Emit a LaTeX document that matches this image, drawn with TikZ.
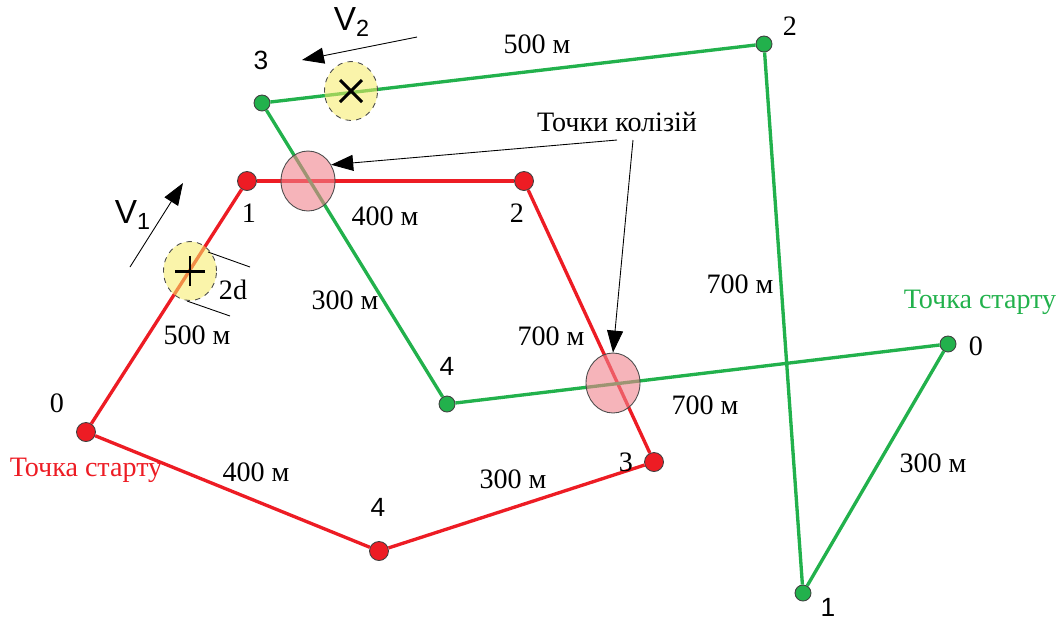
\documentclass[tikz,border=0pt]{standalone}
\usepackage{fontspec}
\setmainfont{Liberation Serif}
\setsansfont{Liberation Sans}
\usepackage{tikz}
\usetikzlibrary{arrows.meta,positioning,shapes.geometric,calc}
\definecolor{routered}{RGB}{237,28,36}
\definecolor{routegreen}{RGB}{34,177,76}
\definecolor{hitpink}{RGB}{240,130,140}
\definecolor{zoneyellow}{RGB}{245,235,100}

\begin{document}
\begin{tikzpicture}[x=0.02cm, y=-0.02cm,
  font=\fontsize{16}{19}\selectfont,
  reddot/.style={circle, draw=black!75, line width=0.5pt, fill=routered, inner sep=0pt, minimum size=0.38cm},
  greendot/.style={circle, draw=black!75, line width=0.5pt, fill=routegreen, inner sep=0pt, minimum size=0.32cm},
  redline/.style={routered, line width=1.9pt},
  greenline/.style={routegreen, line width=1.9pt},
  hit/.style={ellipse, draw=black!70, line width=0.5pt, fill=hitpink, fill opacity=0.6, inner sep=0pt, minimum width=1.08cm, minimum height=1.2cm},
  zone/.style={ellipse, draw=black!70, dashed, line width=0.5pt, fill=zoneyellow, fill opacity=0.55, inner sep=0pt, minimum width=1.06cm, minimum height=1.18cm},
  sansnum/.style={font=\sffamily\fontsize{15}{18}\selectfont},
  vel/.style={font=\sffamily\fontsize{19}{22}\selectfont},
  arrow/.style={-{Triangle[length=4.4mm, width=3.2mm]}, line width=0.5pt},
  cross/.style={black, line width=1.7pt}
]
\useasboundingbox (0,0) rectangle (1059,620);

% red route
\node[reddot] (r0) at (86,432) {};
\node[reddot] (r1) at (247,181) {};
\node[reddot] (r2) at (524,181) {};
\node[reddot] (r3) at (654,462) {};
\node[reddot] (r4) at (379,551) {};
\draw[redline] (r0) -- (r1);
\draw[redline] (r1) -- (r2);
\draw[redline] (r2) -- (r3);
\draw[redline] (r3) -- (r4);
\draw[redline] (r4) -- (r0);

% green route
\node[greendot] (g0) at (948,344) {};
\node[greendot] (g1) at (803,593) {};
\node[greendot] (g2) at (764,44) {};
\node[greendot] (g3) at (262,103) {};
\node[greendot] (g4) at (447,404) {};
\draw[greenline] (g0) -- (g1);
\draw[greenline] (g1) -- (g2);
\draw[greenline] (g2) -- (g3);
\draw[greenline] (g3) -- (g4);
\draw[greenline] (g4) -- (g0);

% collision points and safety zones
\node[hit] (hit1) at (308,181) {};
\node[hit] (hit2) at (613,383) {};
\node[zone] (zx) at (351,91) {};
\node[zone] (zp) at (190,271) {};
\draw[cross] ([shift={(-11,-11)}]zx.center) -- ([shift={(11,11)}]zx.center);
\draw[cross] ([shift={(-11,11)}]zx.center) -- ([shift={(11,-11)}]zx.center);
\draw[cross] ([shift={(-15,0)}]zp.center) -- ([shift={(15,0)}]zp.center);
\draw[cross] ([shift={(0,-15)}]zp.center) -- ([shift={(0,15)}]zp.center);

% 2d
\draw[line width=0.5pt] (208,252) -- (250,267);
\draw[line width=0.5pt] (187,301) -- (230,316);
\node (dd) at (233,290) {2d};

% labels at red points
\node (lr0) at (57,403) {0};
\node (lr1) at (249,213) {1};
\node (lr2) at (517,213) {2};
\node (lr3) at (626,462) {3};
\node[sansnum] (lr4) at (378,507) {4};
\node[text=routered] (rstart) at (86,470) {Точка старту};

% labels at green points
\node (lg0) at (976,346) {0};
\node[sansnum] (lg1) at (828,607) {1};
\node (lg2) at (790,26) {2};
\node[sansnum] (lg3) at (261,60) {3};
\node[sansnum] (lg4) at (447,366) {4};
\node[text=routegreen] (gstart) at (980,302) {Точка старту};

% distances
\node (dr01) at (197,335) {500 м};
\node (dr12) at (385,216) {400 м};
\node (dr23) at (551,336) {700 м};
\node (dr34) at (513,479) {300 м};
\node (dr40) at (256,472) {400 м};
\node (dg01) at (933,463) {300 м};
\node (dg12) at (740,284) {700 м};
\node (dg23) at (537,44) {500 м};
\node (dg34) at (345,300) {300 м};
\node (dg40) at (705,405) {700 м};

% velocities
\node[vel] (v1) at (133,215) {V\textsubscript{1}};
\node[vel] (v2) at (352,22) {V\textsubscript{2}};
\coordinate (v1s) at (130,267);
\coordinate (v1e) at (183,183);
\coordinate (v2s) at (417,37);
\coordinate (v2e) at (302,60);
\draw[arrow] (v1s) -- (v1e);
\draw[arrow] (v2s) -- (v2e);

% collision label
\node (coll) at (617,122) {Точки колізій};
\coordinate (ca) at (617,140);
\coordinate (cb) at (633,140);
\draw[arrow] (ca) -- (hit1.35);
\draw[arrow] (cb) -- (hit2.north);
\end{tikzpicture}
\end{document}
